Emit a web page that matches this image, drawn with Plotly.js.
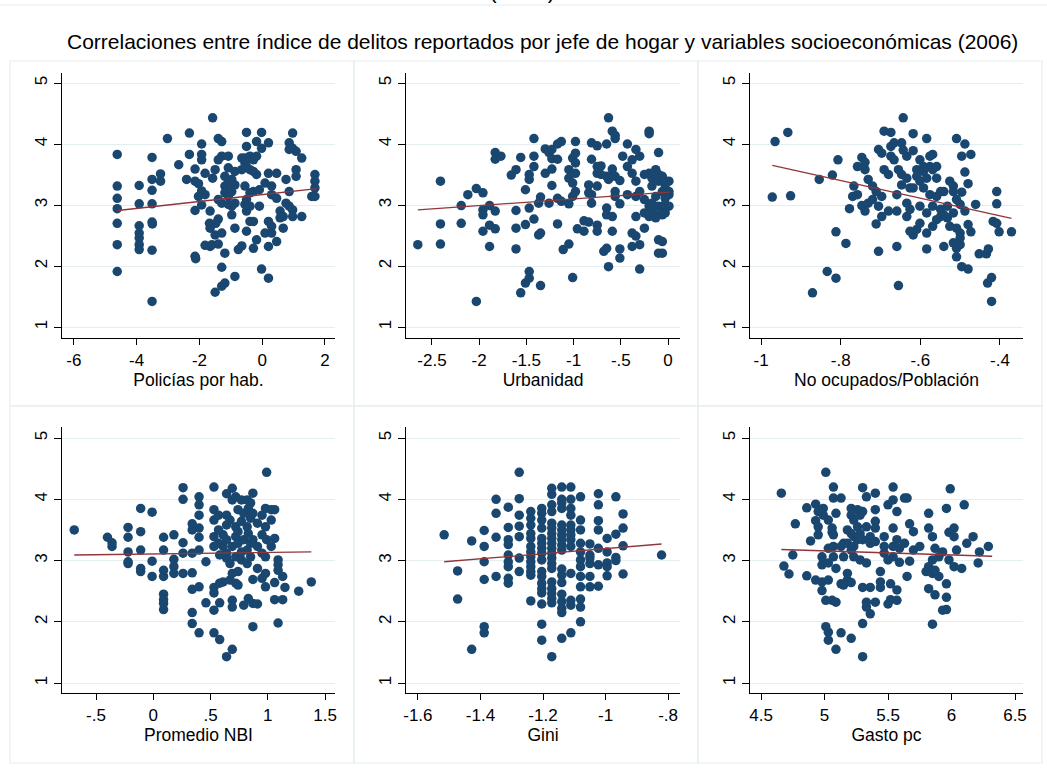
<!DOCTYPE html>
<html>
<head>
<meta charset="utf-8">
<script src="https://cdn.plot.ly/plotly-3.0.1.min.js"></script>
<style>html,body{margin:0;padding:0;background:#fff;}#chart{width:1047px;height:774px;}</style>
</head>
<body>
<div id="chart"></div>
<script>
// ---------- DATA ----------
const chartTitle = "Correlaciones entre índice de delitos reportados por jefe de hogar y variables socioeconómicas (2006)";
const cutTitle = "(2006)";
const xTitles = ["Policías por hab.", "Urbanidad", "No ocupados/Población", "Promedio NBI", "Gini", "Gasto pc"];

// Panel 1: Policías por hab.
const policiasX = [-4.62,-4.62,-4.62,-4.62,-4.62,-4.62,-4.62,
 -3.92,-3.92,-3.92,-3.92,-3.92,-3.92,-3.92,
 -3.51,-3.51,-3.51,-3.51,-3.51,-3.50,-3.51,-3.51,
 -3.24,-3.24,-3.02,-2.66,-2.41,-2.32,-2.32,
 -2.14,-2.14,-2.14,-2.14,-2.12,-2.03,-2.03,
 -1.93,-1.93,-1.93,-1.93,-1.93,-1.82,-1.82,-1.82,
 -1.66,-1.68,-1.66,-1.66,-1.58,-1.60,-1.58,
 -1.50,-1.50,-1.50,-1.48,-1.40,-1.40,-1.40,-1.40,-1.40,
 -1.29,-1.29,-1.29,-1.29,-1.29,-1.29,-1.19,-1.19,-1.19,-1.19,-1.19,
 -1.08,-1.08,-1.08,-1.08,-1.08,-0.97,-0.97,-0.97,-0.97,
 -0.87,-0.87,-0.87,-0.87,-0.87,-0.76,-0.65,-0.65,-0.65,
 -0.55,-0.55,-0.55,-0.55,-0.50,-0.50,-0.50,-0.50,-0.50,-0.50,-0.50,
 -0.39,-0.39,-0.39,-0.39,-0.39,-0.28,-0.28,-0.28,-0.28,-0.28,
 -0.18,-0.18,-0.18,-0.18,-0.09,-0.09,-0.02,-0.02,-0.02,
 0.09,0.09,0.20,0.20,0.20,0.20,0.20,0.30,0.30,0.30,0.30,
 0.46,0.46,0.46,0.57,0.57,0.67,0.67,0.76,0.76,
 0.86,0.86,0.86,0.86,0.97,0.97,0.97,0.97,1.08,1.08,1.08,1.26,1.26,
 1.58,1.68,1.68,1.68,1.68];
const policiasY = [3.83,3.31,3.11,2.94,2.70,2.35,1.91,
 3.32,3.02,2.66,2.54,2.46,2.35,2.27,
 3.78,3.42,3.24,3.02,2.72,2.69,2.26,1.42,
 3.51,3.39,4.09,3.66,3.42,4.18,3.83,
 3.59,3.39,2.91,2.16,2.12,3.35,3.14,
 3.83,3.74,3.23,3.00,4.00,3.52,3.17,2.34,
 2.62,2.70,2.32,2.90,3.44,2.35,4.43,
 3.58,2.51,1.57,2.70,4.09,3.74,3.09,2.77,2.36,
 4.04,3.80,3.03,2.54,1.98,1.67,3.47,3.31,3.20,2.21,1.72,
 3.80,3.61,3.36,3.14,3.01,3.42,3.22,2.84,2.98,
 3.55,3.33,3.03,2.62,1.83,2.27,3.58,3.77,2.33,
 3.77,3.69,3.31,3.01,4.19,3.96,3.74,3.63,2.90,2.57,3.09,
 3.80,3.58,3.20,2.98,2.73,3.74,3.55,3.22,2.73,2.29,
 4.04,3.80,3.50,2.43,3.25,2.98,4.19,3.93,1.95,
 3.36,2.54,4.02,3.52,2.73,2.32,1.80,3.31,3.17,2.65,2.54,
 3.52,3.11,2.40,2.90,2.79,2.62,2.81,3.03,3.42,
 3.91,4.02,3.22,2.98,4.18,3.93,2.92,2.81,3.58,3.47,3.88,3.77,2.81,
 3.14,3.50,3.39,3.14,3.28];

// Panel 2: Urbanidad
const urbanX = [-2.65,-2.41,-2.41,-2.41,-2.19,-2.19,-2.12,-2.03,-2.03,
 -1.96,-1.96,-1.96,-1.96,-1.89,-1.89,-1.89,-1.83,-1.83,-1.83,-1.83,-1.77,-1.66,
 -1.61,-1.61,-1.61,-1.61,-1.56,-1.56,-1.51,-1.51,-1.51,
 -1.47,-1.47,-1.47,-1.47,-1.47,-1.42,-1.42,-1.42,-1.42,-1.37,-1.37,-1.35,-1.35,-1.35,
 -1.30,-1.30,-1.26,-1.26,-1.23,-1.23,-1.23,-1.23,-1.17,-1.17,-1.17,-1.17,-1.13,-1.13,-1.11,
 -1.05,-1.05,-1.05,-1.05,-1.01,-1.01,-1.01,-1.01,-0.98,-0.98,-0.98,-0.98,-0.98,-0.96,
 -0.89,-0.89,-0.84,-0.84,-0.84,-0.81,-0.81,-0.81,-0.81,
 -0.75,-0.75,-0.75,-0.75,-0.75,-0.75,-0.71,-0.71,-0.68,
 -0.65,-0.65,-0.65,-0.65,-0.65,-0.63,-0.63,-0.63,
 -0.59,-0.59,-0.59,-0.59,-0.59,-0.56,-0.56,-0.56,-0.56,-0.56,
 -0.51,-0.51,-0.51,-0.51,-0.48,-0.43,-0.43,-0.43,-0.38,-0.38,-0.38,-0.38,
 -0.34,-0.34,-0.34,-0.34,-0.34,-0.30,-0.30,-0.30,-0.30,-0.25,-0.25,-0.25,-0.25,
 -0.20,-0.20,-0.20,-0.20,-0.20,-0.17,-0.17,-0.17,-0.17,-0.13,-0.13,-0.13,-0.13,
 -0.10,-0.10,-0.10,-0.10,-0.10,-0.10,-0.06,-0.06,-0.06,-0.06,-0.06,-0.06,
 -0.03,-0.03,-0.03,-0.03,0.01,0.01,0.01,0.01];
const urbanY = [2.35,3.39,2.69,2.36,2.99,2.70,3.17,3.27,1.42,
 3.20,2.92,2.84,2.57,2.99,2.67,2.32,3.86,3.75,2.90,2.61,3.80,3.49,
 3.58,2.91,2.62,2.28,3.78,1.56,3.25,2.68,1.72,
 3.50,3.42,2.95,1.91,1.80,4.09,3.80,3.63,2.77,3.03,2.51,3.13,2.54,1.68,
 3.92,3.52,3.86,3.03,3.76,3.59,3.32,3.91,4.00,3.75,3.11,2.69,4.04,3.06,2.27,
 3.58,3.44,3.02,2.36,3.77,3.36,3.14,1.81,4.04,3.85,3.69,3.52,3.22,2.61,
 2.74,2.57,3.33,2.72,3.20,4.02,3.75,3.17,3.03,
 3.63,3.52,3.31,2.67,2.57,3.97,3.64,3.50,2.24,
 4.00,2.29,2.84,2.95,3.47,4.43,1.99,3.42,
 4.21,3.50,2.81,2.57,3.59,4.14,4.09,3.22,3.14,3.47,
 3.40,3.02,2.28,2.13,3.80,4.00,3.63,3.17,3.74,3.52,2.54,2.32,
 3.91,3.39,3.14,2.81,2.49,3.80,3.22,1.95,2.35,3.50,3.09,2.87,2.62,
 4.21,4.17,3.52,2.81,2.98,3.44,3.31,3.03,2.90,3.58,3.14,2.84,2.79,
 3.86,3.50,3.39,2.98,2.43,2.21,3.47,3.22,2.95,2.84,2.40,2.21,
 3.33,3.11,3.01,2.87,3.39,3.17,2.98,3.22];

// Panel 3: No ocupados/Población
const noocupX = [-0.972,-0.965,-0.933,-0.926,-0.871,-0.854,-0.834,-0.821,-0.812,-0.812,-0.807,
 -0.787,-0.778,-0.770,-0.767,-0.758,-0.758,-0.747,-0.747,-0.739,-0.739,-0.739,
 -0.731,-0.731,-0.720,-0.720,-0.711,-0.711,-0.705,-0.705,-0.705,-0.697,-0.697,-0.697,
 -0.691,-0.691,-0.680,-0.680,-0.674,-0.674,-0.674,-0.666,-0.666,
 -0.659,-0.659,-0.659,-0.655,-0.655,-0.647,-0.647,-0.647,-0.643,-0.643,
 -0.634,-0.634,-0.634,-0.634,-0.626,-0.626,-0.626,-0.618,-0.618,-0.618,-0.618,
 -0.609,-0.609,-0.609,-0.601,-0.601,-0.601,-0.601,-0.592,-0.592,-0.592,
 -0.584,-0.584,-0.584,-0.584,-0.584,-0.576,-0.576,-0.576,-0.569,-0.569,-0.569,-0.569,
 -0.559,-0.559,-0.559,-0.559,-0.549,-0.549,-0.549,-0.541,-0.541,-0.541,-0.532,-0.532,
 -0.526,-0.526,-0.517,-0.517,-0.517,-0.517,-0.509,-0.509,-0.509,-0.509,-0.509,
 -0.500,-0.500,-0.500,-0.500,-0.496,-0.496,-0.496,-0.488,-0.488,-0.488,
 -0.480,-0.480,-0.480,-0.473,-0.473,-0.461,-0.452,-0.434,-0.431,-0.429,-0.421,-0.421,
 -0.417,-0.408,-0.408,-0.408,-0.402,-0.371];
const noocupY = [3.13,4.04,4.19,3.15,1.56,3.42,1.91,3.49,1.80,2.56,3.74,
 2.37,2.94,3.14,3.31,3.63,3.17,3.78,2.99,3.58,2.90,3.70,
 3.42,3.03,3.31,3.09,2.69,3.22,3.91,2.98,2.24,3.85,2.81,3.14,
 4.21,3.58,2.90,3.50,4.19,3.96,3.80,4.02,3.74,
 3.17,2.90,2.32,3.58,1.68,4.02,3.50,3.33,4.43,3.90,
 3.80,3.44,3.03,2.81,3.28,2.93,2.57,4.17,3.89,3.28,2.51,
 3.58,3.47,2.60,3.74,3.39,2.98,2.70,3.63,3.28,3.55,
 4.09,3.44,2.87,2.54,2.28,3.80,3.63,3.17,3.83,3.58,2.98,2.65,
 3.63,3.44,3.14,2.76,3.22,2.93,2.81,3.22,2.32,2.84,2.98,2.79,
 3.39,2.65,3.22,2.87,2.38,3.31,4.09,3.09,2.62,2.29,2.15,
 3.01,2.54,2.35,2.46,3.80,3.21,1.99,4.00,3.54,2.90,
 3.35,2.68,1.95,3.83,2.56,3.01,2.20,2.20,1.72,2.28,1.81,1.42,
 2.73,3.22,3.02,2.70,2.56,2.56];

// Panel 4: Promedio NBI
const nbiX = [-0.69,-0.40,-0.36,-0.36,-0.22,-0.22,-0.22,-0.22,-0.22,
 -0.11,-0.11,-0.11,-0.11,-0.11,-0.01,-0.01,-0.01,
 0.09,0.09,0.09,0.09,0.09,0.09,0.09,0.09,0.18,0.18,0.18,0.18,
 0.26,0.26,0.26,0.26,0.26,0.34,0.34,0.34,0.34,0.34,0.34,0.34,
 0.40,0.40,0.40,0.40,0.40,0.40,0.40,0.40,0.46,0.46,
 0.53,0.53,0.53,0.53,0.53,0.53,0.53,0.53,0.53,0.57,0.57,0.57,0.58,0.58,0.58,0.58,
 0.61,0.61,0.61,0.64,0.64,0.64,0.64,0.64,0.64,0.64,0.67,0.67,0.67,
 0.69,0.69,0.69,0.69,0.69,0.69,0.69,0.72,0.72,0.72,0.72,0.72,
 0.74,0.74,0.74,0.74,0.74,0.77,0.77,0.77,0.77,0.79,0.79,0.79,
 0.82,0.82,0.82,0.82,0.83,0.83,0.83,0.85,0.85,0.85,0.85,
 0.87,0.87,0.87,0.87,0.87,0.87,0.91,0.91,0.91,0.91,0.95,0.95,0.95,0.95,
 0.98,0.98,0.98,0.98,0.98,0.99,0.99,1.03,1.03,1.03,1.06,1.06,1.06,1.06,
 1.09,1.09,1.09,1.09,1.13,1.13,1.15,1.27,1.38];
const nbiY = [3.50,3.38,3.29,3.23,3.54,3.38,3.14,2.98,2.95,
 3.85,3.47,3.17,2.87,2.82,3.79,2.99,2.74,
 3.38,3.17,2.84,2.74,2.45,2.36,2.20,2.30,3.42,3.02,2.90,2.79,
 4.19,4.00,3.29,3.12,2.79,3.60,3.50,3.12,2.80,2.53,2.15,1.97,
 4.04,3.91,3.74,3.53,3.38,3.17,2.57,1.82,2.98,2.31,
 4.20,3.83,3.66,3.39,3.23,2.56,2.47,2.19,1.82,3.74,3.50,3.28,3.09,2.63,2.31,1.71,
 3.42,3.23,2.65,4.09,3.74,3.58,3.34,3.12,3.04,1.43,3.66,2.95,2.68,
 4.18,3.99,3.23,2.79,2.35,2.24,1.55,4.04,3.55,3.39,3.06,2.63,
 3.83,3.47,3.28,2.82,2.60,3.99,3.64,3.14,3.01,3.77,3.34,2.27,
 3.99,3.55,3.17,2.95,3.85,3.44,2.38,3.94,3.69,3.28,3.06,
 4.10,3.77,3.34,2.69,2.30,1.92,3.61,3.23,2.87,2.29,3.74,3.42,3.12,2.71,
 3.85,3.55,3.06,2.79,2.57,4.44,3.34,3.83,3.66,3.23,3.83,3.36,2.64,2.36,
 3.01,2.93,2.84,1.98,2.74,2.36,2.56,2.50,2.65];

// Panel 5: Gini
const giniX = [-1.516,-1.473,-1.473,-1.428,-1.428,
 -1.388,-1.388,-1.388,-1.388,-1.388,-1.388,-1.350,-1.350,-1.350,-1.350,
 -1.311,-1.311,-1.311,-1.311,-1.311,-1.311,-1.311,-1.311,-1.311,
 -1.276,-1.276,-1.276,-1.276,-1.276,-1.276,-1.276,
 -1.239,-1.239,-1.239,-1.239,-1.239,-1.239,-1.239,-1.239,-1.239,-1.239,-1.239,-1.239,-1.239,
 -1.204,-1.204,-1.204,-1.204,-1.204,-1.204,-1.204,-1.204,-1.204,-1.204,-1.204,-1.204,-1.204,-1.204,-1.204,-1.204,-1.204,
 -1.172,-1.172,-1.172,-1.172,-1.172,-1.172,-1.172,-1.172,-1.172,-1.172,-1.172,-1.172,-1.172,-1.172,-1.172,-1.172,-1.172,-1.172,-1.172,-1.172,
 -1.140,-1.140,-1.140,-1.140,-1.140,-1.140,-1.140,-1.140,-1.140,-1.140,-1.140,-1.140,-1.140,-1.140,-1.140,-1.140,-1.140,-1.140,
 -1.111,-1.111,-1.111,-1.111,-1.111,-1.111,-1.111,-1.111,-1.111,-1.111,-1.111,-1.111,-1.111,
 -1.080,-1.080,-1.080,-1.080,-1.080,-1.080,-1.080,-1.080,-1.080,-1.080,-1.080,-1.080,
 -1.050,-1.050,-1.050,-1.050,-1.050,-1.050,
 -1.023,-1.023,-1.023,-1.023,-1.023,-1.023,-1.023,
 -0.995,-0.995,-0.995,-0.995,-0.995,-0.967,-0.967,-0.967,-0.967,
 -0.944,-0.944,-0.944,-0.944,-0.821];
const giniY = [3.42,2.83,2.37,3.32,1.55,
 3.49,3.23,2.98,2.69,1.92,1.82,4.00,3.77,3.38,2.74,
 3.87,3.54,3.34,3.26,3.09,2.98,2.90,2.71,2.63,
 4.44,4.01,3.74,3.56,3.39,3.04,2.82,
 3.80,3.69,3.58,3.44,3.36,3.23,3.14,3.06,2.98,2.90,2.82,2.76,2.34,
 3.85,3.77,3.66,3.53,3.36,3.28,3.20,3.12,3.01,2.82,2.74,2.63,2.54,2.47,2.29,1.96,1.70,
 4.18,4.08,3.91,3.80,3.61,3.53,3.44,3.36,3.28,3.20,3.12,3.04,2.95,2.87,2.65,2.54,2.46,2.38,2.31,1.43,
 4.20,4.00,3.94,3.85,3.58,3.50,3.42,3.34,3.25,3.17,2.86,2.76,2.64,2.45,2.33,2.22,2.15,1.73,
 4.20,4.00,3.85,3.74,3.58,3.50,3.42,3.34,3.23,2.79,2.35,2.27,1.82,
 4.04,3.66,3.50,3.28,3.14,3.01,2.90,2.74,2.57,2.37,2.24,2.00,
 3.27,3.09,2.95,2.74,2.57,3.04,
 4.09,3.91,3.65,3.50,3.20,2.93,2.58,
 3.36,3.14,2.96,2.90,2.75,4.04,3.43,3.05,3.00,
 3.76,3.53,3.24,2.78,3.09];

// Panel 6: Gasto pc
const gastoX = [4.66,4.68,4.72,4.75,4.77,4.86,4.86,4.89,4.93,4.93,4.93,
 4.95,4.95,4.95,4.98,4.98,4.98,4.98,4.99,4.99,5.01,5.01,5.01,
 5.03,5.03,5.03,5.03,5.03,5.03,5.06,5.06,5.06,5.07,5.07,5.07,5.07,5.07,
 5.09,5.09,5.09,5.09,5.13,5.13,5.13,5.13,5.15,5.15,5.15,5.18,5.18,5.18,5.18,
 5.21,5.21,5.21,5.21,5.21,5.21,5.23,5.23,5.23,5.23,5.26,5.26,5.26,5.28,5.28,5.28,
 5.30,5.30,5.30,5.30,5.30,5.30,5.33,5.33,5.33,5.33,5.33,5.36,5.36,5.36,5.36,
 5.40,5.40,5.40,5.40,5.40,5.40,5.44,5.44,5.44,5.47,5.47,5.47,5.50,5.50,5.50,5.52,5.52,
 5.54,5.54,5.54,5.54,5.54,5.57,5.57,5.57,5.57,5.59,5.59,5.63,5.63,5.65,5.65,5.67,5.67,
 5.70,5.70,5.75,5.80,5.82,5.82,5.82,5.82,5.85,5.85,5.85,5.85,5.87,5.87,5.87,5.90,5.90,
 5.93,5.93,5.96,5.96,5.96,5.96,5.98,5.98,5.99,6.02,6.02,6.02,6.04,6.08,6.10,6.12,6.17,6.21,6.22,6.29];
const gastoY = [4.10,2.91,2.78,3.09,3.60,3.86,2.75,3.32,3.92,3.65,2.68,
 3.80,3.55,3.42,3.06,2.93,2.65,2.51,3.85,3.74,4.44,2.35,1.92,
 3.66,3.20,2.68,2.96,1.83,1.70,3.53,3.46,2.35,4.20,4.02,3.42,3.06,3.23,
 3.77,2.87,2.32,1.55,4.02,3.23,2.62,1.82,3.28,3.06,2.60,3.50,2.79,2.68,3.28,
 3.85,3.74,3.44,3.17,2.64,1.73,3.66,3.39,3.23,3.06,3.83,3.55,3.34,3.74,3.44,3.01,
 4.19,3.80,3.34,2.56,1.97,1.43,4.04,3.55,2.96,2.32,2.24,3.39,3.28,2.13,2.56,
 4.10,3.83,3.64,3.53,3.31,2.32,2.82,2.65,2.56,3.39,3.23,3.12,3.91,3.01,2.29,2.36,2.62,
 4.20,3.99,3.53,3.23,3.06,3.80,3.34,2.52,2.35,3.20,2.97,4.02,3.28,4.02,2.74,3.60,2.99,
 3.47,3.17,3.23,2.82,3.77,3.53,2.90,2.54,3.39,3.01,2.79,1.96,3.20,2.84,2.44,3.06,2.74,
 3.14,2.19,3.85,2.62,2.40,2.20,3.46,3.01,4.17,3.53,2.90,3.39,3.17,2.87,3.91,3.28,3.39,2.96,3.14,3.23];

// Fitted lines (end points)
const fitX = [[-4.6,1.75],[-2.65,0.01],[-0.972,-0.371],[-0.69,1.38],[-1.516,-0.821],[4.66,6.32]];
const fitY = [[2.91,3.27],[2.92,3.21],[3.65,2.78],[3.09,3.14],[2.98,3.27],[3.18,3.07]];

const xRanges = [[-6.38,2.32],[-2.775,0.127],[-1.028,-0.342],[-0.797,1.587],[-1.638,-0.762],[4.413,6.563]];
const xTickVals = [[-6,-4,-2,0,2],[-2.5,-2,-1.5,-1,-0.5,0],[-1,-0.8,-0.6,-0.4],[-0.5,0,0.5,1,1.5],[-1.6,-1.4,-1.2,-1,-0.8],[4.5,5,5.5,6,6.5]];
const xTickText = [["-6","-4","-2","0","2"],["-2.5","-2","-1.5","-1","-.5","0"],["-1","-.8","-.6","-.4"],["-.5","0",".5","1","1.5"],["-1.6","-1.4","-1.2","-1","-.8"],["4.5","5","5.5","6","6.5"]];
const yTickVals = [1,2,3,4,5];
const yTickText = ["1","2","3","4","5"];

const seriesX = [policiasX, urbanX, noocupX, nbiX, giniX, gastoX];
const seriesY = [policiasY, urbanY, noocupY, nbiY, giniY, gastoY];

// ---------- LAYOUT ----------
const W = 1047, H = 774;
const px = v => v / W;
const py = v => 1 - v / H;
const colX = [[62,335],[406,680],[750,1023]];
const rowY = [[73,338],[427,693]];
const yRanges = [[0.82,5.164],[0.837,5.18]];

const navy = "#1a476f";
const maroon = "#90353b";
const font = "Liberation Sans, Arial, sans-serif";

const traces = [];
const layout = {
  width: W, height: H,
  margin: {l:0, r:0, t:0, b:0},
  paper_bgcolor: "#ffffff",
  plot_bgcolor: "#ffffff",
  showlegend: false,
  font: {family: font, color: "#000"},
  annotations: [],
  shapes: []
};

for (let i = 0; i < 6; i++) {
  const r = Math.floor(i / 3), c = i % 3;
  const sfx = i === 0 ? "" : String(i + 1);
  traces.push({
    type: "scatter", mode: "markers",
    x: seriesX[i], y: seriesY[i],
    xaxis: "x" + sfx, yaxis: "y" + sfx,
    marker: {color: navy, size: 9.5, line: {width: 0}},
    hoverinfo: "skip"
  });
  traces.push({
    type: "scatter", mode: "lines",
    x: fitX[i], y: fitY[i],
    xaxis: "x" + sfx, yaxis: "y" + sfx,
    line: {color: maroon, width: 1.3},
    hoverinfo: "skip"
  });
  layout["xaxis" + sfx] = {
    domain: [px(colX[c][0]), px(colX[c][1])],
    anchor: "y" + sfx,
    range: xRanges[i],
    tickmode: "array", tickvals: xTickVals[i], ticktext: xTickText[i],
    ticks: "outside", ticklen: 6, tickwidth: 1, tickcolor: "#000",
    showline: true, linecolor: "#000", linewidth: 1.3,
    showgrid: false, zeroline: false,
    tickfont: {size: 17, family: font, color: "#000"},
    title: {text: xTitles[i], font: {size: 17.5, family: font, color: "#000"}, standoff: 0},
    fixedrange: true
  };
  layout["yaxis" + sfx] = {
    domain: [py(rowY[r][1]), py(rowY[r][0])],
    anchor: "x" + sfx,
    range: yRanges[r],
    tickmode: "array", tickvals: yTickVals, ticktext: yTickText,
    tickangle: -90,
    ticks: "outside", ticklen: 7, tickwidth: 1, tickcolor: "#000",
    showline: true, linecolor: "#000", linewidth: 1.3,
    showgrid: true, gridcolor: "#e4eef0", gridwidth: 1,
    zeroline: false,
    tickfont: {size: 17, family: font, color: "#000"},
    fixedrange: true
  };
}

// panel boxes
const boxCols = [[10,354],[354,698],[698,1042]];
const boxRows = [[61,406],[406,763]];
for (const br of boxRows) for (const bc of boxCols) {
  layout.shapes.push({type: "rect", xref: "paper", yref: "paper",
    x0: px(bc[0]), x1: px(bc[1]), y0: py(br[1]), y1: py(br[0]),
    line: {color: "#e6eef0", width: 1.2}, fillcolor: "rgba(0,0,0,0)", layer: "below"});
}
layout.shapes.push({type: "line", xref: "paper", yref: "paper",
  x0: 0, x1: 1, y0: py(5), y1: py(5), line: {color: "#e6eef0", width: 1.2}, layer: "below"});

layout.annotations.push({
  text: chartTitle, xref: "paper", yref: "paper",
  x: px(542), y: py(42), xanchor: "center", yanchor: "middle",
  showarrow: false, font: {size: 21, family: font, color: "#000"}
});
layout.annotations.push({
  text: cutTitle, xref: "paper", yref: "paper",
  x: px(522), y: py(-10), xanchor: "center", yanchor: "middle",
  showarrow: false, font: {size: 23, family: font, color: "#000"}
});

Plotly.newPlot("chart", traces, layout, {displayModeBar: false, staticPlot: true});
</script>
</body>
</html>
